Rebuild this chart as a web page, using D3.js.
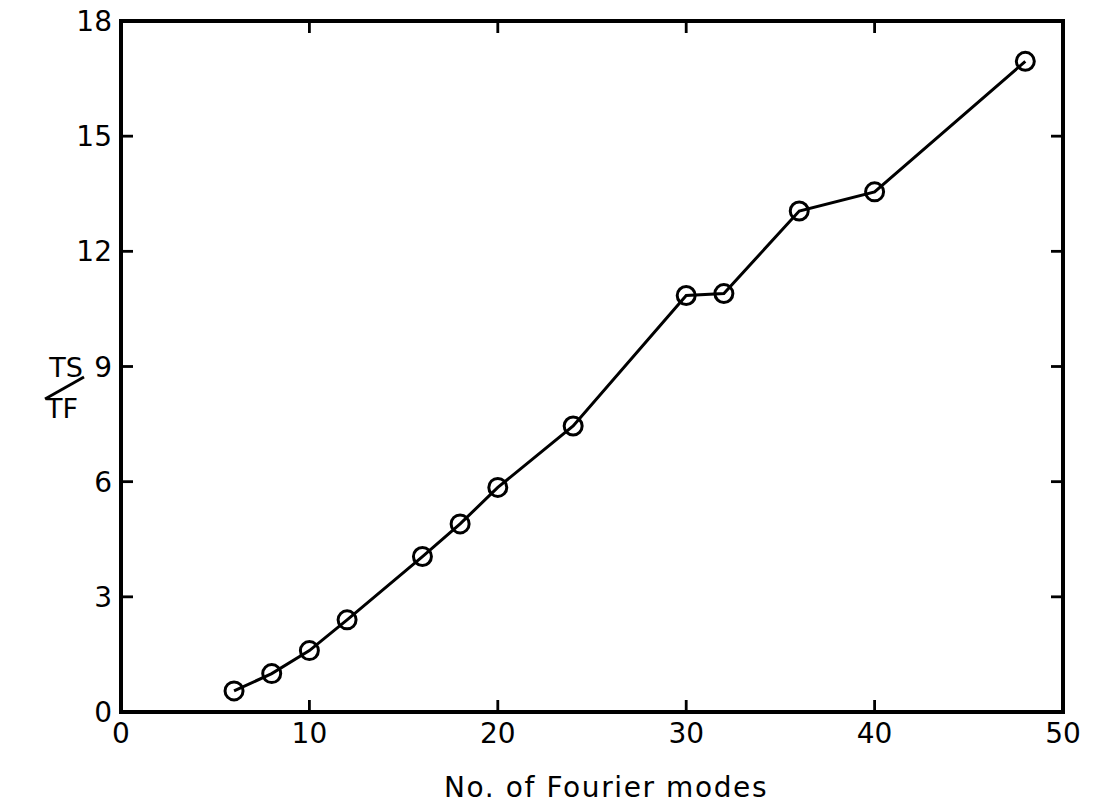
<!DOCTYPE html>
<html>
<head>
<meta charset="utf-8">
<script src="https://cdn.jsdelivr.net/npm/d3@7"></script>
<style>
  html, body { margin: 0; padding: 0; background: #fff; }
  svg { display: block; }
  text { font-family: "DejaVu Sans", sans-serif; fill: #000; }
</style>
</head>
<body>
<svg id="chart" width="1097" height="812"></svg>
<script>
// Speed-up ratio TS/TF against number of Fourier modes
const modes = [6, 8, 10, 12, 16, 18, 20, 24, 30, 32, 36, 40, 48];
const ratio = [0.55, 1.0, 1.6, 2.4, 4.05, 4.9, 5.85, 7.45, 10.85, 10.9, 13.05, 13.55, 16.95];
const xTicks = [0, 10, 20, 30, 40, 50];
const yTicks = [0, 3, 6, 9, 12, 15, 18];

const svg = d3.select("#chart");
const plotLeft = 121, plotRight = 1063, plotTop = 21, plotBottom = 712;

const x = d3.scaleLinear().domain([0, 50]).range([plotLeft, plotRight]);
const y = d3.scaleLinear().domain([0, 18]).range([plotBottom, plotTop]);

// Frame
svg.append("rect")
  .attr("x", plotLeft).attr("y", plotTop)
  .attr("width", plotRight - plotLeft).attr("height", plotBottom - plotTop)
  .attr("fill", "none").attr("stroke", "#000").attr("stroke-width", 4);

const inner = 12;
const xInner = xTicks.filter(d => d > 0 && d < 50);
const yInner = yTicks.filter(d => d > 0 && d < 18);

// Inward ticks on all four sides
const ticks = svg.append("g").attr("stroke", "#000").attr("stroke-width", 2.8);
ticks.append("g").selectAll("line").data(xInner).join("line")
  .attr("x1", d => x(d)).attr("x2", d => x(d))
  .attr("y1", plotBottom).attr("y2", plotBottom - inner);
ticks.append("g").selectAll("line").data(xInner).join("line")
  .attr("x1", d => x(d)).attr("x2", d => x(d))
  .attr("y1", plotTop).attr("y2", plotTop + inner);
ticks.append("g").selectAll("line").data(yInner).join("line")
  .attr("x1", plotLeft).attr("x2", plotLeft + inner)
  .attr("y1", d => y(d)).attr("y2", d => y(d));
ticks.append("g").selectAll("line").data(yInner).join("line")
  .attr("x1", plotRight).attr("x2", plotRight - inner)
  .attr("y1", d => y(d)).attr("y2", d => y(d));

// Tick labels
svg.append("g").selectAll("text").data(xTicks).join("text")
  .attr("x", d => x(d)).attr("y", 743)
  .attr("text-anchor", "middle")
  .attr("font-size", 28)
  .text(d => d);

svg.append("g").selectAll("text").data(yTicks).join("text")
  .attr("x", 112).attr("y", d => y(d) + 10)
  .attr("text-anchor", "end")
  .attr("font-size", 28)
  .text(d => d);

// Axis titles
svg.append("text")
  .attr("x", 606).attr("y", 797)
  .attr("text-anchor", "middle")
  .attr("font-size", 28)
  .attr("letter-spacing", 1.6)
  .text("No. of Fourier modes");

const yTitle = svg.append("g");
yTitle.append("text").attr("x", 66).attr("y", 377)
  .attr("text-anchor", "middle").attr("font-size", 27).text("TS");
yTitle.append("line")
  .attr("x1", 45).attr("y1", 399).attr("x2", 84).attr("y2", 377)
  .attr("stroke", "#000").attr("stroke-width", 2.8);
yTitle.append("text").attr("x", 62).attr("y", 418)
  .attr("text-anchor", "middle").attr("font-size", 27).text("TF");

// Data line and circle markers
const pts = modes.map((m, i) => [m, ratio[i]]);
svg.append("path")
  .datum(pts)
  .attr("fill", "none").attr("stroke", "#000").attr("stroke-width", 3)
  .attr("d", d3.line().x(d => x(d[0])).y(d => y(d[1])));

svg.append("g").selectAll("circle").data(pts).join("circle")
  .attr("cx", d => x(d[0])).attr("cy", d => y(d[1]))
  .attr("r", 9)
  .attr("fill", "none").attr("stroke", "#000").attr("stroke-width", 3);
</script>
</body>
</html>
